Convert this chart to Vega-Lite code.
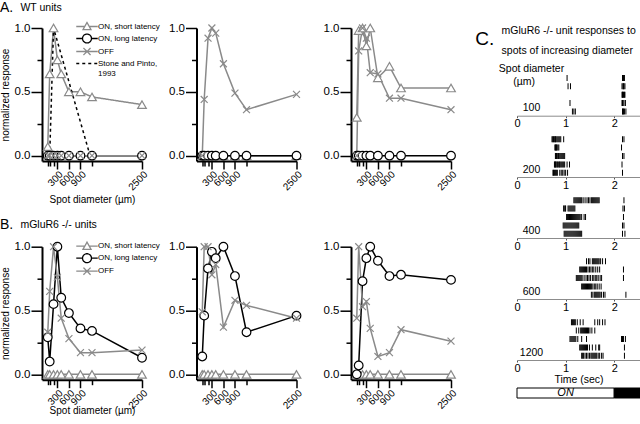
{
 "$schema": "https://vega.github.io/schema/vega-lite/v6.json",
 "background": "white",
 "padding": {"left": 0, "top": 0, "right": 0, "bottom": 0},
 "spacing": 16,
 "config": {
  "font": "Liberation Sans",
  "view": {"stroke": null},
  "axis": {"grid": false, "domainColor": "black", "tickColor": "black", "labelColor": "black", "titleColor": "black", "titleFontWeight": "normal"},
  "title": {"fontWeight": "normal", "color": "black", "subtitleColor": "black", "anchor": "start"},
  "legend": {"padding": 0, "labelColor": "black"}
 },
 "datasets": {
  "curves": [
   {"p": "A1", "s": "ON, short latency", "d": [50,100,200,300,400,600,900,1200,2500], "r": [0.07,0.64,1.0,0.75,0.64,0.50,0.50,0.46,0.40]},
   {"p": "A1", "s": "ON, long latency", "d": [50,100,200,300,400,600,900,1200,2500], "r": [0,0,0,0,0,0,0,0,0]},
   {"p": "A1", "s": "OFF", "d": [50,100,200,300,400,600,900,1200,2500], "r": [0,0,0,0,0,0,0,0,0]},
   {"p": "A1", "s": "Stone and Pinto, 1993", "d": [100,200,1150], "r": [0,1,0]},
   {"p": "A2", "s": "ON, short latency", "d": [50,100,200,300,400,600,900,1200,2500], "r": [0,0,0,0,0,0,0,0,0]},
   {"p": "A2", "s": "ON, long latency", "d": [50,100,200,300,400,600,900,1200,2500], "r": [0,0,0,0,0,0,0,0,0]},
   {"p": "A2", "s": "OFF", "d": [50,100,200,300,400,600,900,1200,2500], "r": [0,0.44,0.92,1.0,0.96,0.72,0.49,0.36,0.48]},
   {"p": "A3", "s": "ON, short latency", "d": [50,100,200,300,400,600,900,1200,2500], "r": [0.30,0.98,1.0,0.86,1.0,0.61,0.70,0.53,0.53]},
   {"p": "A3", "s": "ON, long latency", "d": [50,100,200,300,400,600,900,1200,2500], "r": [0,0,0,0,0,0,0,0,0]},
   {"p": "A3", "s": "OFF", "d": [50,100,200,300,400,600,900,1200,2500], "r": [0,0.82,1.0,0.92,0.65,0.64,0.45,0.45,0.36]},
   {"p": "B1", "s": "ON, short latency", "d": [50,100,200,300,400,600,900,1200,2500], "r": [0,0,0,0,0,0,0,0,0]},
   {"p": "B1", "s": "ON, long latency", "d": [50,100,200,300,400,600,900,1200,2500], "r": [0.29,0.10,0.55,1.0,0.60,0.48,0.36,0.34,0.13]},
   {"p": "B1", "s": "OFF", "d": [50,100,200,300,400,600,900,1200,2500], "r": [0.33,0.65,1.0,0.76,0.44,0.28,0.17,0.17,0.19]},
   {"p": "B2", "s": "ON, short latency", "d": [50,100,200,300,400,600,900,1200,2500], "r": [0,0,0,0,0,0,0,0,0]},
   {"p": "B2", "s": "ON, long latency", "d": [50,100,200,300,400,600,900,1200,2500], "r": [0.14,0.46,0.83,0.96,0.91,1.0,0.77,0.33,0.46]},
   {"p": "B2", "s": "OFF", "d": [50,100,200,300,400,600,900,1200,2500], "r": [0.49,1.0,1.0,0.78,0.86,0.37,0.58,0.54,0.44]},
   {"p": "B3", "s": "ON, short latency", "d": [50,100,200,300,400,600,900,1200,2500], "r": [0,0,0,0,0,0,0,0,0]},
   {"p": "B3", "s": "ON, long latency", "d": [50,100,200,300,400,600,900,1200,2500], "r": [0,0.07,0.73,0.91,1.0,0.89,0.77,0.78,0.74]},
   {"p": "B3", "s": "OFF", "d": [50,100,200,300,400,600,900,1200,2500], "r": [0.44,1.0,0.53,0.57,0.36,0.14,0.17,0.35,0.26]}
  ],
  "spikes": [
   {"d":100,"tr":1,"t":[1.03,2.17,2.19,2.21]},
   {"d":100,"tr":2,"t":[1.05,1.10,2.16,2.18,2.19,2.20,2.22]},
   {"d":100,"tr":3,"t":[2.16,2.17,2.18,2.19,2.21,2.22]},
   {"d":100,"tr":4,"t":[1.09,2.16,2.17,2.18,2.20,2.23]},
   {"d":100,"tr":5,"t":[1.14,1.17,1.20,2.17,2.18,2.19,2.21,2.24]},
   {"d":200,"tr":1,"t":[0.72,0.735,0.75,0.765,0.78,0.79,0.80,0.82,0.84,0.86,0.88,0.90,0.96,2.17,2.20]},
   {"d":200,"tr":2,"t":[0.78,0.79,0.80,0.81,0.82,0.84,0.86,2.15]},
   {"d":200,"tr":3,"t":[0.79,0.80,0.81,0.82,0.84,0.85,0.86,0.88,0.90,0.92,0.94,0.96,0.98,2.17,2.20]},
   {"d":200,"tr":4,"t":[0.77,0.78,0.79,0.80,0.82,0.83,0.85,0.87,0.88,0.90,0.92,0.94,0.96,0.98,1.03,1.08,2.16]},
   {"d":200,"tr":5,"t":[0.74,0.75,0.77,0.79,0.81,0.83,0.88,0.91,0.94,0.97,1.00,1.04,2.17]},
   {"d":400,"tr":1,"t":[1.17,1.19,1.21,1.23,1.25,1.27,1.29,1.31,1.33,1.36,1.40,1.44,1.47,1.50,1.53,1.55,1.57,1.59,1.61,1.63,1.65,1.67,1.69,2.20]},
   {"d":400,"tr":2,"t":[0.96,0.97,0.99,1.00,1.05,1.07,1.09,1.11,1.13,1.15,1.17,1.19,2.18,2.21]},
   {"d":400,"tr":3,"t":[1.02,1.04,1.06,1.08,1.10,1.12,1.14,1.16,1.18,1.20,1.22,1.24,1.26,1.28,1.30,1.33,1.38,1.41,2.19]},
   {"d":400,"tr":4,"t":[0.95,0.97,0.99,1.01,1.03,1.05,1.07,1.09,1.11,1.13,1.15,1.17,1.19,1.21,1.23,1.25,1.27,2.17,2.20]},
   {"d":400,"tr":5,"t":[0.97,0.99,1.01,1.03,1.05,1.07,1.09,1.11,1.13,1.15,1.17,1.19,1.21,1.23,1.25,1.27,1.29,1.31,1.33,2.17,2.22]},
   {"d":600,"tr":1,"t":[1.43,1.47,1.50,1.55,1.57,1.59,1.61,1.63,1.65,1.67,1.69,1.72,1.76,1.82]},
   {"d":600,"tr":2,"t":[1.29,1.31,1.33,1.35,1.37,1.39,1.41,1.43,1.46,1.49,1.52,1.55,1.58,1.62,1.66,1.70,2.19]},
   {"d":600,"tr":3,"t":[1.22,1.24,1.26,1.28,1.30,1.32,1.34,1.38,1.42,1.45,1.48,1.51,1.55,1.58,1.61,1.64,1.67,1.71,1.74,2.19]},
   {"d":600,"tr":4,"t":[1.33,1.35,1.37,1.39,1.41,1.43,1.45,1.47,1.49,1.51,1.53,1.56,1.59,1.62,1.65,1.69,1.73]},
   {"d":600,"tr":5,"t":[1.53,1.56,1.59,1.61,1.63,1.65,1.67,1.69,1.71,1.74,1.78,1.81,2.24]},
   {"d":1200,"tr":1,"t":[1.12,1.14,1.16,1.18,1.20,1.24,1.30,1.36,1.60,1.66,1.70,1.76,1.81]},
   {"d":1200,"tr":2,"t":[1.22,1.27,1.31,1.33,1.35,1.37,1.39,1.41,1.43,1.45,1.47,1.50,1.54,1.60]},
   {"d":1200,"tr":3,"t":[1.09,1.11,1.13,1.15,1.17,1.19,1.21,1.25,1.33,1.43,2.15,2.17,2.19,2.23]},
   {"d":1200,"tr":4,"t":[1.29,1.31,1.33,1.35,1.37,1.39,1.41,1.43,1.45,1.49,1.55,1.62,1.68,1.70,2.21]},
   {"d":1200,"tr":5,"t":[1.33,1.35,1.37,1.40,1.43,1.46,1.49,1.52,1.54,1.56,1.58,1.60,1.62,1.64,1.67,1.70,1.74,1.77,2.21]}
  ],
  "stim": [
   {"phase": "ON", "band": "stimulus", "start": 0, "end": 2, "mid": 1},
   {"phase": "OFF", "band": "stimulus", "start": 2, "end": 2.53, "mid": 2.26}
  ]
 },
 "hconcat": [
  {
   "columns": 3,
   "bounds": "flush",
   "spacing": {"row": 85.7, "column": 54.5},
   "resolve": {"scale": {"color": "independent", "shape": "independent", "strokeDash": "independent"}, "legend": {"color": "independent"}},
   "concat": [
    {
     "width": 100, "height": 133,
     "title": {"text": "A.", "subtitle": "\u200b\u00a0\u00a0\u00a0\u00a0\u00a0\u00a0\u00a0WT units", "fontSize": 14, "subtitleFontSize": 10.5, "subtitlePadding": -12, "offset": 6.3},
     "data": {"name": "curves"},
     "transform": [{"filter": "datum.p === 'A1'"}, {"flatten": ["d", "r"]}],
     "encoding": {
      "x": {"field": "d", "type": "quantitative", "scale": {"domain": [-100, 2500], "nice": false, "zero": false},
            "axis": {"title": "Spot diameter (µm)", "titleFontSize": 10, "titlePadding": 3, "values": [50,100,200,300,600,900,1200,2500], "format": "d", "labelExpr": "indexof([300,600,900,2500], datum.value) >= 0 ? datum.label : ''", "labelAngle": -45, "labelFontSize": 10, "labelOverlap": false, "labelFlush": false, "labelPadding": 0, "tickSize": {"condition": {"test": "indexof([300,600,900,2500], datum.value) >= 0", "value": 8}, "value": 5}, "domainWidth": 2, "tickWidth": 1.5}},
      "y": {"field": "r", "type": "quantitative", "scale": {"domain": [-0.042, 1], "nice": false, "zero": false},
            "axis": {"title": "normalized response", "titleFontSize": 10, "titlePadding": 4, "values": [0,0.25,0.5,0.75,1], "labelExpr": "datum.value % 0.5 === 0 ? format(datum.value, '.1f') : ''", "labelFontSize": 11.5, "labelPadding": 1, "labelFlush": false, "labelOverlap": false, "tickSize": {"condition": {"test": "datum.value % 0.5 === 0", "value": 11}, "value": 5}, "domainWidth": 2, "tickWidth": 1.5}},
      "color": {"field": "s", "type": "nominal", "scale": {"domain": ["ON, short latency","ON, long latency","OFF","Stone and Pinto, 1993"], "range": ["#8a8a8a","black","#8a8a8a","black"]},
                "legend": {"orient": "none", "legendX": 39.5, "legendY": -7, "title": null, "labelFontSize": 8, "symbolSize": 80, "labelOffset": 5.5, "rowPadding": -2.5,
                           "labelExpr": "datum.label === 'Stone and Pinto, 1993' ? ['Stone and Pinto,', '1993'] : datum.label",
                           "encode": {"symbols": {"update": {
                              "shape": {"signal": "datum.value === 'ON, short latency' ? 'M-2.4,0H-0.5M0.5,0H2.4M0,-0.9L0.9,0.7L-0.9,0.7Z' : datum.value === 'ON, long latency' ? 'M-2.4,0H-1M1,0H2.4M1,0A1,1,0,1,1,-1,0A1,1,0,1,1,1,0Z' : datum.value === 'OFF' ? 'M-2.4,0H2.4M-0.8,-0.8L0.8,0.8M-0.8,0.8L0.8,-0.8' : 'M-2.4,0H2.4'"},
                              "fill": {"value": "white"},
                              "stroke": {"signal": "datum.value === 'ON, long latency' || datum.value === 'Stone and Pinto, 1993' ? 'black' : '#8a8a8a'"},
                              "strokeDash": {"signal": "datum.value === 'Stone and Pinto, 1993' ? [2.5, 2.5] : [1, 0]"},
                              "strokeWidth": {"value": 1.3},
                              "opacity": {"value": 1}}}}}}
     },
     "layer": [
      {"mark": {"type": "line", "strokeWidth": 1.5}, "encoding": {"strokeDash": {"field": "s", "type": "nominal", "scale": {"domain": ["ON, short latency","ON, long latency","OFF","Stone and Pinto, 1993"], "range": [[1,0],[1,0],[1,0],[3,3]]}, "legend": null}}},
      {"transform": [{"filter": "datum.s !== 'Stone and Pinto, 1993'"}], "mark": {"type": "point", "filled": false, "fill": "white", "size": 75, "strokeWidth": 1.2, "opacity": 1},
       "encoding": {"shape": {"field": "s", "type": "nominal", "scale": {"domain": ["ON, short latency","ON, long latency","OFF"], "range": ["triangle-up","circle","M-0.8,-0.8L0.8,0.8M-0.8,0.8L0.8,-0.8"]}, "legend": null}}}
     ]
    },
    {
     "width": 100, "height": 133,
     "data": {"name": "curves"},
     "transform": [{"filter": "datum.p === 'A2'"}, {"flatten": ["d", "r"]}],
     "encoding": {
      "x": {"field": "d", "type": "quantitative", "scale": {"domain": [-100, 2500], "nice": false, "zero": false},
            "axis": {"title": null, "values": [50,100,200,300,600,900,1200,2500], "format": "d", "labelExpr": "indexof([300,600,900,2500], datum.value) >= 0 ? datum.label : ''", "labelAngle": -45, "labelFontSize": 10, "labelOverlap": false, "labelFlush": false, "labelPadding": 0, "tickSize": {"condition": {"test": "indexof([300,600,900,2500], datum.value) >= 0", "value": 8}, "value": 5}, "domainWidth": 2, "tickWidth": 1.5}},
      "y": {"field": "r", "type": "quantitative", "scale": {"domain": [-0.042, 1], "nice": false, "zero": false},
            "axis": {"title": null, "values": [0,0.25,0.5,0.75,1], "labelExpr": "datum.value % 0.5 === 0 ? format(datum.value, '.1f') : ''", "labelFontSize": 11.5, "labelPadding": 1, "labelFlush": false, "labelOverlap": false, "tickSize": {"condition": {"test": "datum.value % 0.5 === 0", "value": 11}, "value": 5}, "domainWidth": 2, "tickWidth": 1.5}},
      "color": {"field": "s", "type": "nominal", "scale": {"domain": ["ON, short latency","ON, long latency","OFF"], "range": ["#8a8a8a","black","#8a8a8a"]}, "legend": null}
     },
     "layer": [
      {"mark": {"type": "line", "strokeWidth": 1.5}, "encoding": {}},
      {"mark": {"type": "point", "filled": false, "fill": "white", "size": 75, "strokeWidth": 1.2, "opacity": 1},
       "encoding": {"shape": {"field": "s", "type": "nominal", "scale": {"domain": ["ON, short latency","ON, long latency","OFF"], "range": ["triangle-up","circle","M-0.8,-0.8L0.8,0.8M-0.8,0.8L0.8,-0.8"]}, "legend": null}}}
     ]
    },
    {
     "width": 100, "height": 133,
     "data": {"name": "curves"},
     "transform": [{"filter": "datum.p === 'A3'"}, {"flatten": ["d", "r"]}],
     "encoding": {
      "x": {"field": "d", "type": "quantitative", "scale": {"domain": [-100, 2500], "nice": false, "zero": false},
            "axis": {"title": null, "values": [50,100,200,300,600,900,1200,2500], "format": "d", "labelExpr": "indexof([300,600,900,2500], datum.value) >= 0 ? datum.label : ''", "labelAngle": -45, "labelFontSize": 10, "labelOverlap": false, "labelFlush": false, "labelPadding": 0, "tickSize": {"condition": {"test": "indexof([300,600,900,2500], datum.value) >= 0", "value": 8}, "value": 5}, "domainWidth": 2, "tickWidth": 1.5}},
      "y": {"field": "r", "type": "quantitative", "scale": {"domain": [-0.042, 1], "nice": false, "zero": false},
            "axis": {"title": null, "values": [0,0.25,0.5,0.75,1], "labelExpr": "datum.value % 0.5 === 0 ? format(datum.value, '.1f') : ''", "labelFontSize": 11.5, "labelPadding": 1, "labelFlush": false, "labelOverlap": false, "tickSize": {"condition": {"test": "datum.value % 0.5 === 0", "value": 11}, "value": 5}, "domainWidth": 2, "tickWidth": 1.5}},
      "color": {"field": "s", "type": "nominal", "scale": {"domain": ["ON, short latency","ON, long latency","OFF"], "range": ["#8a8a8a","black","#8a8a8a"]}, "legend": null}
     },
     "layer": [
      {"mark": {"type": "line", "strokeWidth": 1.5}, "encoding": {}},
      {"mark": {"type": "point", "filled": false, "fill": "white", "size": 75, "strokeWidth": 1.2, "opacity": 1},
       "encoding": {"shape": {"field": "s", "type": "nominal", "scale": {"domain": ["ON, short latency","ON, long latency","OFF"], "range": ["triangle-up","circle","M-0.8,-0.8L0.8,0.8M-0.8,0.8L0.8,-0.8"]}, "legend": null}}}
     ]
    },
    {
     "width": 100, "height": 133,
     "title": {"text": "B.", "subtitle": "\u200b\u00a0\u00a0\u00a0\u00a0\u00a0\u00a0\u00a0mGluR6 -/- units", "fontSize": 14, "subtitleFontSize": 10.5, "subtitlePadding": -12, "offset": 8},
     "data": {"name": "curves"},
     "transform": [{"filter": "datum.p === 'B1'"}, {"flatten": ["d", "r"]}],
     "encoding": {
      "x": {"field": "d", "type": "quantitative", "scale": {"domain": [-100, 2500], "nice": false, "zero": false},
            "axis": {"title": "Spot diameter (µm)", "titleFontSize": 10, "titlePadding": -5, "values": [50,100,200,300,600,900,1200,2500], "format": "d", "labelExpr": "indexof([300,600,900,2500], datum.value) >= 0 ? datum.label : ''", "labelAngle": -45, "labelFontSize": 10, "labelOverlap": false, "labelFlush": false, "labelPadding": 0, "tickSize": {"condition": {"test": "indexof([300,600,900,2500], datum.value) >= 0", "value": 8}, "value": 5}, "domainWidth": 2, "tickWidth": 1.5}},
      "y": {"field": "r", "type": "quantitative", "scale": {"domain": [-0.042, 1], "nice": false, "zero": false},
            "axis": {"title": "normalized response", "titleFontSize": 10, "titlePadding": 4, "values": [0,0.25,0.5,0.75,1], "labelExpr": "datum.value % 0.5 === 0 ? format(datum.value, '.1f') : ''", "labelFontSize": 11.5, "labelPadding": 1, "labelFlush": false, "labelOverlap": false, "tickSize": {"condition": {"test": "datum.value % 0.5 === 0", "value": 11}, "value": 5}, "domainWidth": 2, "tickWidth": 1.5}},
      "color": {"field": "s", "type": "nominal", "scale": {"domain": ["ON, short latency","ON, long latency","OFF"], "range": ["#8a8a8a","black","#8a8a8a"]},
                "legend": {"orient": "none", "legendX": 39.5, "legendY": -6, "title": null, "labelFontSize": 8, "symbolSize": 80, "labelOffset": 5.5, "rowPadding": -4.5,
                           "encode": {"symbols": {"update": {
                              "shape": {"signal": "datum.value === 'ON, short latency' ? 'M-2.4,0H-0.5M0.5,0H2.4M0,-0.9L0.9,0.7L-0.9,0.7Z' : datum.value === 'ON, long latency' ? 'M-2.4,0H-1M1,0H2.4M1,0A1,1,0,1,1,-1,0A1,1,0,1,1,1,0Z' : 'M-2.4,0H2.4M-0.8,-0.8L0.8,0.8M-0.8,0.8L0.8,-0.8'"},
                              "fill": {"value": "white"},
                              "stroke": {"signal": "datum.value === 'ON, long latency' ? 'black' : '#8a8a8a'"},
                              "strokeDash": {"signal": "[1, 0]"},
                              "strokeWidth": {"value": 1.3},
                              "opacity": {"value": 1}}}}}}
     },
     "layer": [
      {"mark": {"type": "line", "strokeWidth": 1.5}, "encoding": {}},
      {"mark": {"type": "point", "filled": false, "fill": "white", "size": 75, "strokeWidth": 1.2, "opacity": 1},
       "encoding": {"shape": {"field": "s", "type": "nominal", "scale": {"domain": ["ON, short latency","ON, long latency","OFF","Stone and Pinto, 1993"], "range": ["triangle-up","circle","M-0.8,-0.8L0.8,0.8M-0.8,0.8L0.8,-0.8","circle"]}, "legend": null}}}
     ]
    },
    {
     "width": 100, "height": 133,
     "data": {"name": "curves"},
     "transform": [{"filter": "datum.p === 'B2'"}, {"flatten": ["d", "r"]}],
     "encoding": {
      "x": {"field": "d", "type": "quantitative", "scale": {"domain": [-100, 2500], "nice": false, "zero": false},
            "axis": {"title": null, "values": [50,100,200,300,600,900,1200,2500], "format": "d", "labelExpr": "indexof([300,600,900,2500], datum.value) >= 0 ? datum.label : ''", "labelAngle": -45, "labelFontSize": 10, "labelOverlap": false, "labelFlush": false, "labelPadding": 0, "tickSize": {"condition": {"test": "indexof([300,600,900,2500], datum.value) >= 0", "value": 8}, "value": 5}, "domainWidth": 2, "tickWidth": 1.5}},
      "y": {"field": "r", "type": "quantitative", "scale": {"domain": [-0.042, 1], "nice": false, "zero": false},
            "axis": {"title": null, "values": [0,0.25,0.5,0.75,1], "labelExpr": "datum.value % 0.5 === 0 ? format(datum.value, '.1f') : ''", "labelFontSize": 11.5, "labelPadding": 1, "labelFlush": false, "labelOverlap": false, "tickSize": {"condition": {"test": "datum.value % 0.5 === 0", "value": 11}, "value": 5}, "domainWidth": 2, "tickWidth": 1.5}},
      "color": {"field": "s", "type": "nominal", "scale": {"domain": ["ON, short latency","ON, long latency","OFF"], "range": ["#8a8a8a","black","#8a8a8a"]}, "legend": null}
     },
     "layer": [
      {"mark": {"type": "line", "strokeWidth": 1.5}, "encoding": {}},
      {"mark": {"type": "point", "filled": false, "fill": "white", "size": 75, "strokeWidth": 1.2, "opacity": 1},
       "encoding": {"shape": {"field": "s", "type": "nominal", "scale": {"domain": ["ON, short latency","ON, long latency","OFF"], "range": ["triangle-up","circle","M-0.8,-0.8L0.8,0.8M-0.8,0.8L0.8,-0.8"]}, "legend": null}}}
     ]
    },
    {
     "width": 100, "height": 133,
     "data": {"name": "curves"},
     "transform": [{"filter": "datum.p === 'B3'"}, {"flatten": ["d", "r"]}],
     "encoding": {
      "x": {"field": "d", "type": "quantitative", "scale": {"domain": [-100, 2500], "nice": false, "zero": false},
            "axis": {"title": null, "values": [50,100,200,300,600,900,1200,2500], "format": "d", "labelExpr": "indexof([300,600,900,2500], datum.value) >= 0 ? datum.label : ''", "labelAngle": -45, "labelFontSize": 10, "labelOverlap": false, "labelFlush": false, "labelPadding": 0, "tickSize": {"condition": {"test": "indexof([300,600,900,2500], datum.value) >= 0", "value": 8}, "value": 5}, "domainWidth": 2, "tickWidth": 1.5}},
      "y": {"field": "r", "type": "quantitative", "scale": {"domain": [-0.042, 1], "nice": false, "zero": false},
            "axis": {"title": null, "values": [0,0.25,0.5,0.75,1], "labelExpr": "datum.value % 0.5 === 0 ? format(datum.value, '.1f') : ''", "labelFontSize": 11.5, "labelPadding": 1, "labelFlush": false, "labelOverlap": false, "tickSize": {"condition": {"test": "datum.value % 0.5 === 0", "value": 11}, "value": 5}, "domainWidth": 2, "tickWidth": 1.5}},
      "color": {"field": "s", "type": "nominal", "scale": {"domain": ["ON, short latency","ON, long latency","OFF"], "range": ["#8a8a8a","black","#8a8a8a"]}, "legend": null}
     },
     "layer": [
      {"mark": {"type": "line", "strokeWidth": 1.5}, "encoding": {}},
      {"mark": {"type": "point", "filled": false, "fill": "white", "size": 75, "strokeWidth": 1.2, "opacity": 1},
       "encoding": {"shape": {"field": "s", "type": "nominal", "scale": {"domain": ["ON, short latency","ON, long latency","OFF"], "range": ["triangle-up","circle","M-0.8,-0.8L0.8,0.8M-0.8,0.8L0.8,-0.8"]}, "legend": null}}}
     ]
    }
   ]
  },
  {
   "bounds": "flush",
   "spacing": 19,
   "title": {"text": "C.", "fontSize": 19, "subtitle": ["\u200b\u00a0\u00a0\u00a0\u00a0\u00a0\u00a0\u00a0\u00a0\u00a0mGluR6 -/- unit responses to", "\u200b\u00a0\u00a0\u00a0\u00a0\u00a0\u00a0\u00a0\u00a0\u00a0spots of increasing diameter"], "subtitleFontSize": 10.5, "subtitleLineHeight": 20, "subtitlePadding": -23, "dx": -23, "offset": -32.7},
   "vconcat": [
    {
     "width": 123, "height": 87.7,
     "data": {"name": "spikes"},
     "transform": [{"filter": "datum.d === 100"}, {"flatten": ["t"]}],
     "mark": {"type": "tick", "orient": "vertical", "thickness": 1, "size": 6, "color": "black", "opacity": 1},
     "encoding": {
      "x": {"field": "t", "type": "quantitative", "scale": {"domain": [0, 2.53], "nice": false, "zero": false}, "axis": {"title": null, "values": [0,1,2], "format": "d", "labelFontSize": 11, "tickSize": 2, "labelPadding": 0, "labelFlush": false, "domainColor": "#8c8c8c", "domainWidth": 1, "tickColor": "#555", "tickWidth": 1}},
      "y": {"field": "tr", "type": "quantitative", "scale": {"domain": [-4.94, 5.5], "reverse": true, "nice": false, "zero": false}, "axis": {"domain": false, "ticks": false, "labels": false, "grid": false, "title": ["Spot diameter", "(µm)\u00a0\u00a0\u00a0\u00a0\u00a0\u200b", "\u200b", "100"], "titleAngle": 0, "titleAlign": "center", "titleBaseline": "middle", "titleX": 14, "titleY": 40.7, "titleFontSize": 10.5, "titleLineHeight": 13}}
     }
    },
    {
     "width": 123, "height": 42,
     "data": {"name": "spikes"},
     "transform": [{"filter": "datum.d === 200"}, {"flatten": ["t"]}],
     "mark": {"type": "tick", "thickness": 1, "size": 6, "color": "black", "opacity": 1},
     "encoding": {
      "x": {"field": "t", "type": "quantitative", "scale": {"domain": [0, 2.53], "nice": false, "zero": false}, "axis": {"title": null, "values": [0,1,2], "format": "d", "labelFontSize": 11, "tickSize": 2, "labelPadding": 0, "labelFlush": false, "domainColor": "#8c8c8c", "domainWidth": 1, "tickColor": "#555", "tickWidth": 1}},
      "y": {"field": "tr", "type": "ordinal", "scale": {"domain": [1,2,3,4,5], "paddingInner": 0, "paddingOuter": 0}, "axis": {"domain": false, "ticks": false, "labels": false, "title": "200", "titleAngle": 0, "titleAlign": "center", "titleBaseline": "middle", "titleX": 14, "titleY": 34, "titleFontSize": 10.5}}
     }
    },
    {
     "width": 123, "height": 42,
     "data": {"name": "spikes"},
     "transform": [{"filter": "datum.d === 400"}, {"flatten": ["t"]}],
     "mark": {"type": "tick", "thickness": 1, "size": 6, "color": "black", "opacity": 1},
     "encoding": {
      "x": {"field": "t", "type": "quantitative", "scale": {"domain": [0, 2.53], "nice": false, "zero": false}, "axis": {"title": null, "values": [0,1,2], "format": "d", "labelFontSize": 11, "tickSize": 2, "labelPadding": 0, "labelFlush": false, "domainColor": "#8c8c8c", "domainWidth": 1, "tickColor": "#555", "tickWidth": 1}},
      "y": {"field": "tr", "type": "ordinal", "scale": {"domain": [1,2,3,4,5], "paddingInner": 0, "paddingOuter": 0}, "axis": {"domain": false, "ticks": false, "labels": false, "title": "400", "titleAngle": 0, "titleAlign": "center", "titleBaseline": "middle", "titleX": 14, "titleY": 34, "titleFontSize": 10.5}}
     }
    },
    {
     "width": 123, "height": 42,
     "data": {"name": "spikes"},
     "transform": [{"filter": "datum.d === 600"}, {"flatten": ["t"]}],
     "mark": {"type": "tick", "thickness": 1, "size": 6, "color": "black", "opacity": 1},
     "encoding": {
      "x": {"field": "t", "type": "quantitative", "scale": {"domain": [0, 2.53], "nice": false, "zero": false}, "axis": {"title": null, "values": [0,1,2], "format": "d", "labelFontSize": 11, "tickSize": 2, "labelPadding": 0, "labelFlush": false, "domainColor": "#8c8c8c", "domainWidth": 1, "tickColor": "#555", "tickWidth": 1}},
      "y": {"field": "tr", "type": "ordinal", "scale": {"domain": [1,2,3,4,5], "paddingInner": 0, "paddingOuter": 0}, "axis": {"domain": false, "ticks": false, "labels": false, "title": "600", "titleAngle": 0, "titleAlign": "center", "titleBaseline": "middle", "titleX": 14, "titleY": 34, "titleFontSize": 10.5}}
     }
    },
    {
     "width": 123, "height": 42,
     "data": {"name": "spikes"},
     "transform": [{"filter": "datum.d === 1200"}, {"flatten": ["t"]}],
     "mark": {"type": "tick", "thickness": 1, "size": 6, "color": "black", "opacity": 1},
     "encoding": {
      "x": {"field": "t", "type": "quantitative", "scale": {"domain": [0, 2.53], "nice": false, "zero": false}, "axis": {"title": "Time (sec)", "titleFontSize": 10.5, "titlePadding": 1, "values": [0,1,2], "format": "d", "labelFontSize": 11, "tickSize": 2, "labelPadding": 0, "labelFlush": false, "domainColor": "#8c8c8c", "domainWidth": 1, "tickColor": "#555", "tickWidth": 1}},
      "y": {"field": "tr", "type": "ordinal", "scale": {"domain": [1,2,3,4,5], "paddingInner": 0, "paddingOuter": 0}, "axis": {"domain": false, "ticks": false, "labels": false, "title": "1200", "titleAngle": 0, "titleAlign": "center", "titleBaseline": "middle", "titleX": 14, "titleY": 34, "titleFontSize": 10.5}}
     }
    },
    {
     "width": 123, "height": 19,
     "data": {"name": "stim"},
     "encoding": {
      "x": {"field": "start", "type": "quantitative", "scale": {"domain": [0, 2.53], "nice": false, "zero": false}, "axis": null},
      "y": {"field": "band", "type": "nominal", "scale": {"paddingInner": 0, "paddingOuter": 0.45, "align": 1}, "axis": null}
     },
     "layer": [
      {"mark": {"type": "rect", "stroke": "black", "strokeWidth": 1}, "encoding": {"x2": {"field": "end"}, "fill": {"field": "phase", "type": "nominal", "scale": {"domain": ["ON", "OFF"], "range": ["white", "black"]}, "legend": null}}},
      {"transform": [{"filter": "datum.phase === 'ON'"}], "mark": {"type": "text", "fontStyle": "italic", "fontSize": 11, "color": "black"}, "encoding": {"x": {"field": "mid", "type": "quantitative"}, "text": {"field": "phase"}}}
     ]
    }
   ]
  }
 ]
}
